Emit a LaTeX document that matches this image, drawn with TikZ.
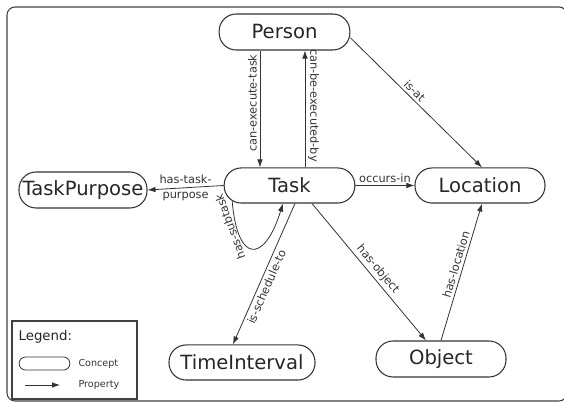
\documentclass[tikz,border=0pt]{standalone}
\usepackage{fontspec}
\setmainfont{DejaVu Sans}
\usetikzlibrary{arrows.meta,positioning}
\tikzset{
    concept/.style={rectangle, rounded corners=12.8pt, draw=black!80, line width=0.8pt,
        minimum height=26.3pt, inner sep=1pt, text=black!85,
        font=\fontsize{14.7}{16}\selectfont},
    prop/.style={-{Latex[length=6pt,width=4.2pt]}, draw=black!80, line width=0.6pt},
    lbl/.style={font=\fontsize{8.5}{11}\selectfont, text=black!80, inner sep=2pt},
    frame/.style={draw=black!75, line width=0.8pt},
    legshape/.style={rectangle, rounded corners=4.8pt, draw=black!80, line width=0.6pt,
        minimum width=38pt, minimum height=9.8pt, inner sep=0pt},
    legtext/.style={font=\fontsize{7.2}{9}\selectfont, text=black!80, inner sep=1pt}
}
\begin{document}
\begin{tikzpicture}[x=0.75pt, y=0.75pt]
    \clip (0,0) rectangle (564,402);
    % frame and legend box
    \draw[frame, rounded corners=6pt] (7,1) rectangle (567,395);
    \draw[frame] (12,3) rectangle (137,81);

    % concepts
    \node[concept, minimum width=98pt, minimum height=27pt] (person) at (284.5,370) {Person};
    \node[concept, minimum width=98pt] (task) at (289.5,216.5) {Task};
    \node[concept, minimum width=96pt, minimum height=27pt] (purpose) at (83,212) {TaskPurpose};
    \node[concept, minimum width=97.5pt] (location) at (480,216.5) {Location};
    \node[concept, minimum width=109.5pt] (interval) at (242,39.5) {TimeInterval};
    \node[concept, minimum width=97.5pt, minimum height=27pt] (object) at (441,43) {Object};

    % properties
    \path ([xshift=-18.4pt]person.south) edge[prop] node[lbl, rotate=90, anchor=south, pos=0.45] {can-execute-task} ([xshift=-18.4pt]person.south |- task.north);
    \path ([xshift=11.6pt]task.north) edge[prop] node[lbl, rotate=-90, anchor=south, pos=0.53] {can-be-executed-by} ([xshift=11.6pt]task.north |- person.south);
    \path (person.-5) edge[prop] node[lbl, sloped, above, pos=0.45] {is-at} ([xshift=1.5pt]location.north);
    \path (task.west) edge[prop] node[lbl, align=center] {has-task-\\purpose} (purpose.east);
    \path (task.east) edge[prop] node[lbl, above] {occurs-in} (location.west);
    \draw[prop] ([xshift=-43pt,yshift=2pt]task.south) .. controls +(5,-62) and +(-19,-61) .. ([xshift=-4.9pt]task.south)
        node[lbl, rotate=110, anchor=south, inner sep=1pt, pos=0.15] {has-subtask};
    \path ([xshift=4.1pt]task.south) edge[prop] node[lbl, sloped, below, pos=0.57] {is-schedule-to} ([xshift=-6.8pt]interval.north);
    \path ([xshift=16.9pt]task.south) edge[prop] node[lbl, sloped, above, pos=0.52] {has-object} ([xshift=-11.3pt]object.north);
    \path (object.north) edge[prop] node[lbl, sloped, above, pos=0.54] {has-location} ([xshift=1.5pt]location.south);

    % legend
    \node[anchor=west, inner sep=1pt, text=black!85, font=\fontsize{10}{12}\selectfont] (legend) at (17,65) {Legend:};
    \node[legshape] (legconcept) at (44.5,38.5) {};
    \node[legtext, right=5pt of legconcept] (concepttext) {Concept};
    \coordinate (propstart) at (25,17);
    \coordinate (propend) at (60,17);
    \draw[prop] (propstart) -- (propend);
    \node[legtext, anchor=west] (proptext) at (77,17) {Property};
\end{tikzpicture}
\end{document}
